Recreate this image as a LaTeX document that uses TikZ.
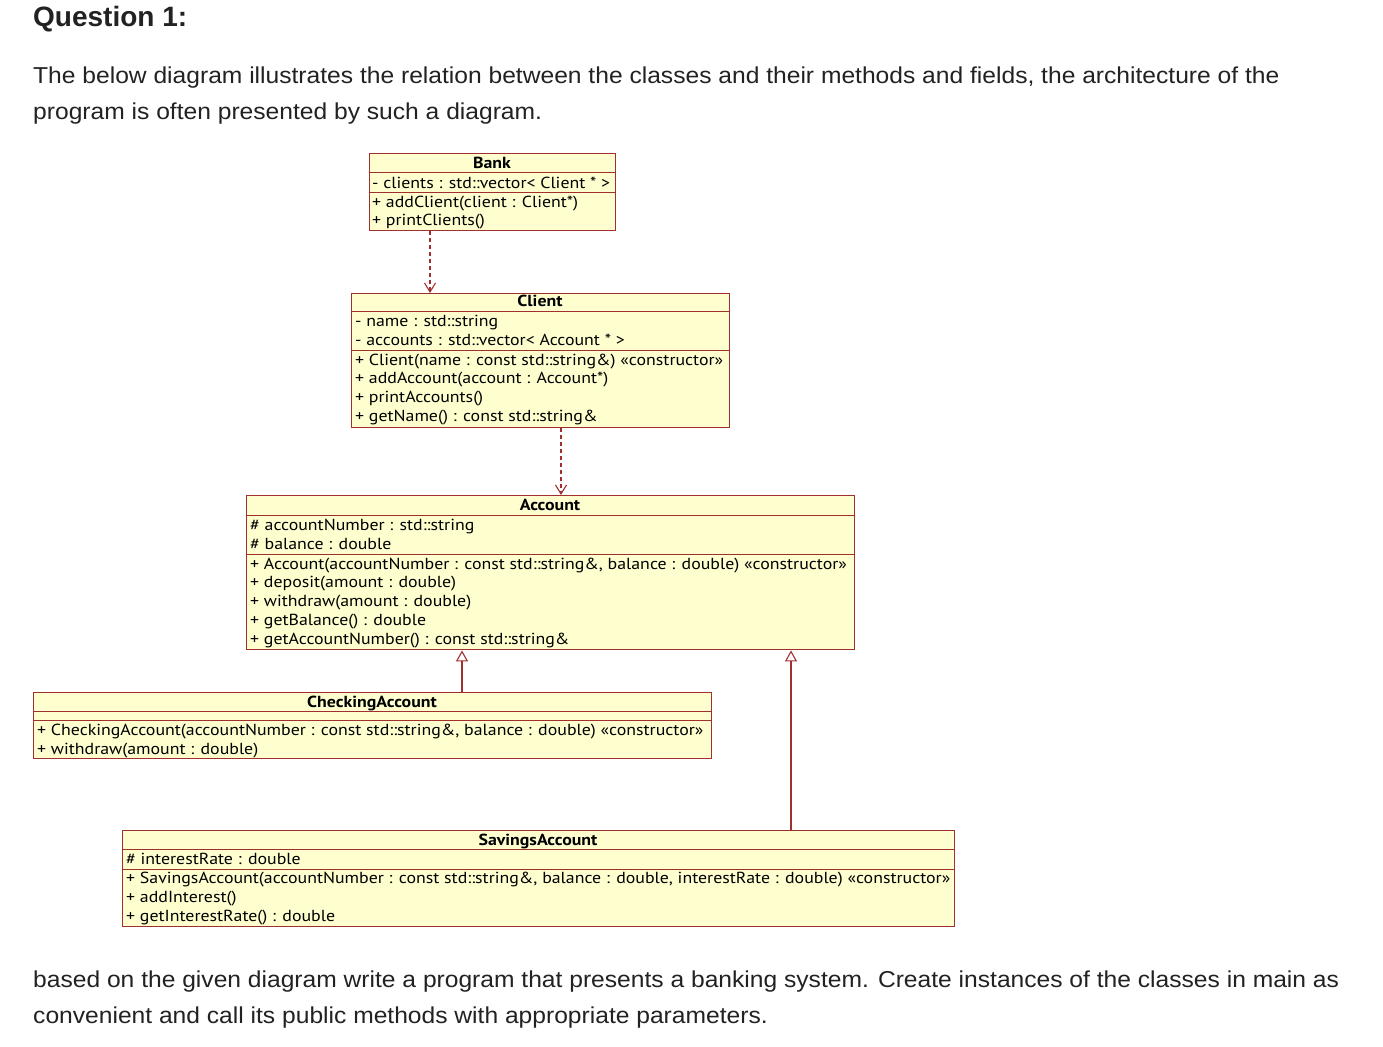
\documentclass[tikz,border=0pt]{standalone}
\usepackage{fontspec}
\setmainfont{Liberation Sans}
\newfontfamily\parafont[FakeStretch=1.07]{Liberation Sans}
\newfontfamily\umlfont[FakeStretch=1.115]{PT Sans}
\usetikzlibrary{arrows.meta}
\definecolor{umlborder}{HTML}{A0302E}
\definecolor{umlfill}{HTML}{FEFECE}
\definecolor{bodytext}{HTML}{222222}
\begin{document}
\begin{tikzpicture}[x=1pt,y=-1pt,
  box/.style={draw=umlborder, fill=umlfill, line width=1.4pt, anchor=north west, inner sep=0pt},
  sep/.style={draw=umlborder, line width=1pt},
  txt/.style={anchor=base west, inner sep=0pt, font=\umlfont\fontsize{16}{18}\selectfont},
  ttl/.style={anchor=base, inner sep=0pt, font=\umlfont\bfseries\fontsize{16}{18}\selectfont},
  dep/.style={draw=umlborder, line width=1.1pt, dash pattern=on 4pt off 3pt, -{Straight Barb[length=9pt,width=11pt]}},
  inh/.style={draw=umlborder, line width=1.1pt, -{Triangle[open,length=11pt,width=12pt,fill=white]}},
  para/.style={anchor=base west, inner sep=0pt, text=bodytext, font=\parafont\fontsize{23}{26}\selectfont},
  head/.style={anchor=base west, inner sep=0pt, text=bodytext, font=\bfseries\fontsize{28}{32}\selectfont}
]
\useasboundingbox (0,0) rectangle (1383,1046);
\fill[white] (0,0) rectangle (1383,1046);

% headings and paragraphs
\node[head] (q) at (33,27) {Question 1:};
\node[para] (p1) at (33,84) {The below diagram illustrates the relation between the classes and their methods and fields, the architecture of the};
\node[para] (p2) at (33,120) {program is often presented by such a diagram.};
\node[para] (p3) at (33,987) {based on the given diagram write a program that presents a banking system. Create instances of the classes in main as};
\node[para] (p4) at (33,1023) {convenient and call its public methods with appropriate parameters.};

% Bank
\node[box, minimum width=246pt, minimum height=77pt] (bank) at (369,153) {};
\draw[sep] (369,172) -- (615,172);
\draw[sep] (369,192) -- (615,192);
\node[ttl] (bankT) at (492,168) {Bank};
\node[txt] (bank1) at (372,188) {- clients : std::vector< Client * >};
\node[txt] (bank2) at (372,207) {+ addClient(client : Client*)};
\node[txt] (bank3) at (372,225) {+ printClients()};

% Client
\node[box, minimum width=378pt, minimum height=134pt] (client) at (351,293) {};
\draw[sep] (351,311) -- (729,311);
\draw[sep] (351,350) -- (729,350);
\node[ttl] (clientT) at (540,306) {Client};
\node[txt] (client1) at (355,326) {- name : std::string};
\node[txt] (client2) at (355,345) {- accounts : std::vector< Account * >};
\node[txt] (client3) at (355,365) {+ Client(name : const std::string\&) «constructor»};
\node[txt] (client4) at (355,383) {+ addAccount(account : Account*)};
\node[txt] (client5) at (355,402) {+ printAccounts()};
\node[txt] (client6) at (355,421) {+ getName() : const std::string\&};

% Account
\node[box, minimum width=608pt, minimum height=154pt] (account) at (246,495) {};
\draw[sep] (246,515) -- (854,515);
\draw[sep] (246,554) -- (854,554);
\node[ttl] (accountT) at (550,510) {Account};
\node[txt] (account1) at (250,530) {\# accountNumber : std::string};
\node[txt] (account2) at (250,549) {\# balance : double};
\node[txt] (account3) at (250,569) {+ Account(accountNumber : const std::string\&, balance : double) «constructor»};
\node[txt] (account4) at (250,587) {+ deposit(amount : double)};
\node[txt] (account5) at (250,606) {+ withdraw(amount : double)};
\node[txt] (account6) at (250,625) {+ getBalance() : double};
\node[txt] (account7) at (250,644) {+ getAccountNumber() : const std::string\&};

% CheckingAccount
\node[box, minimum width=678pt, minimum height=66pt] (checking) at (33,692) {};
\draw[sep] (33,711) -- (711,711);
\draw[sep] (33,720) -- (711,720);
\node[ttl] (checkingT) at (372,707) {CheckingAccount};
\node[txt] (checking1) at (37,735) {+ CheckingAccount(accountNumber : const std::string\&, balance : double) «constructor»};
\node[txt] (checking2) at (37,754) {+ withdraw(amount : double)};

% SavingsAccount
\node[box, minimum width=832pt, minimum height=96pt] (savings) at (122,830) {};
\draw[sep] (122,849) -- (954,849);
\draw[sep] (122,869) -- (954,869);
\node[ttl] (savingsT) at (538,845) {SavingsAccount};
\node[txt] (savings1) at (126,864) {\# interestRate : double};
\node[txt] (savings2) at (126,883) {+ SavingsAccount(accountNumber : const std::string\&, balance : double, interestRate : double) «constructor»};
\node[txt] (savings3) at (126,902) {+ addInterest()};
\node[txt] (savings4) at (126,921) {+ getInterestRate() : double};

% connectors
\coordinate (cA) at (430,0);
\coordinate (cB) at (561,0);
\coordinate (cC) at (462,0);
\coordinate (cD) at (791,0);
\draw[dep] (bank.south -| cA) -- (client.north -| cA);
\draw[dep] (client.south -| cB) -- (account.north -| cB);
\draw[inh] (checking.north -| cC) -- (account.south -| cC);
\draw[inh] (savings.north -| cD) -- (account.south -| cD);
\end{tikzpicture}
\end{document}
